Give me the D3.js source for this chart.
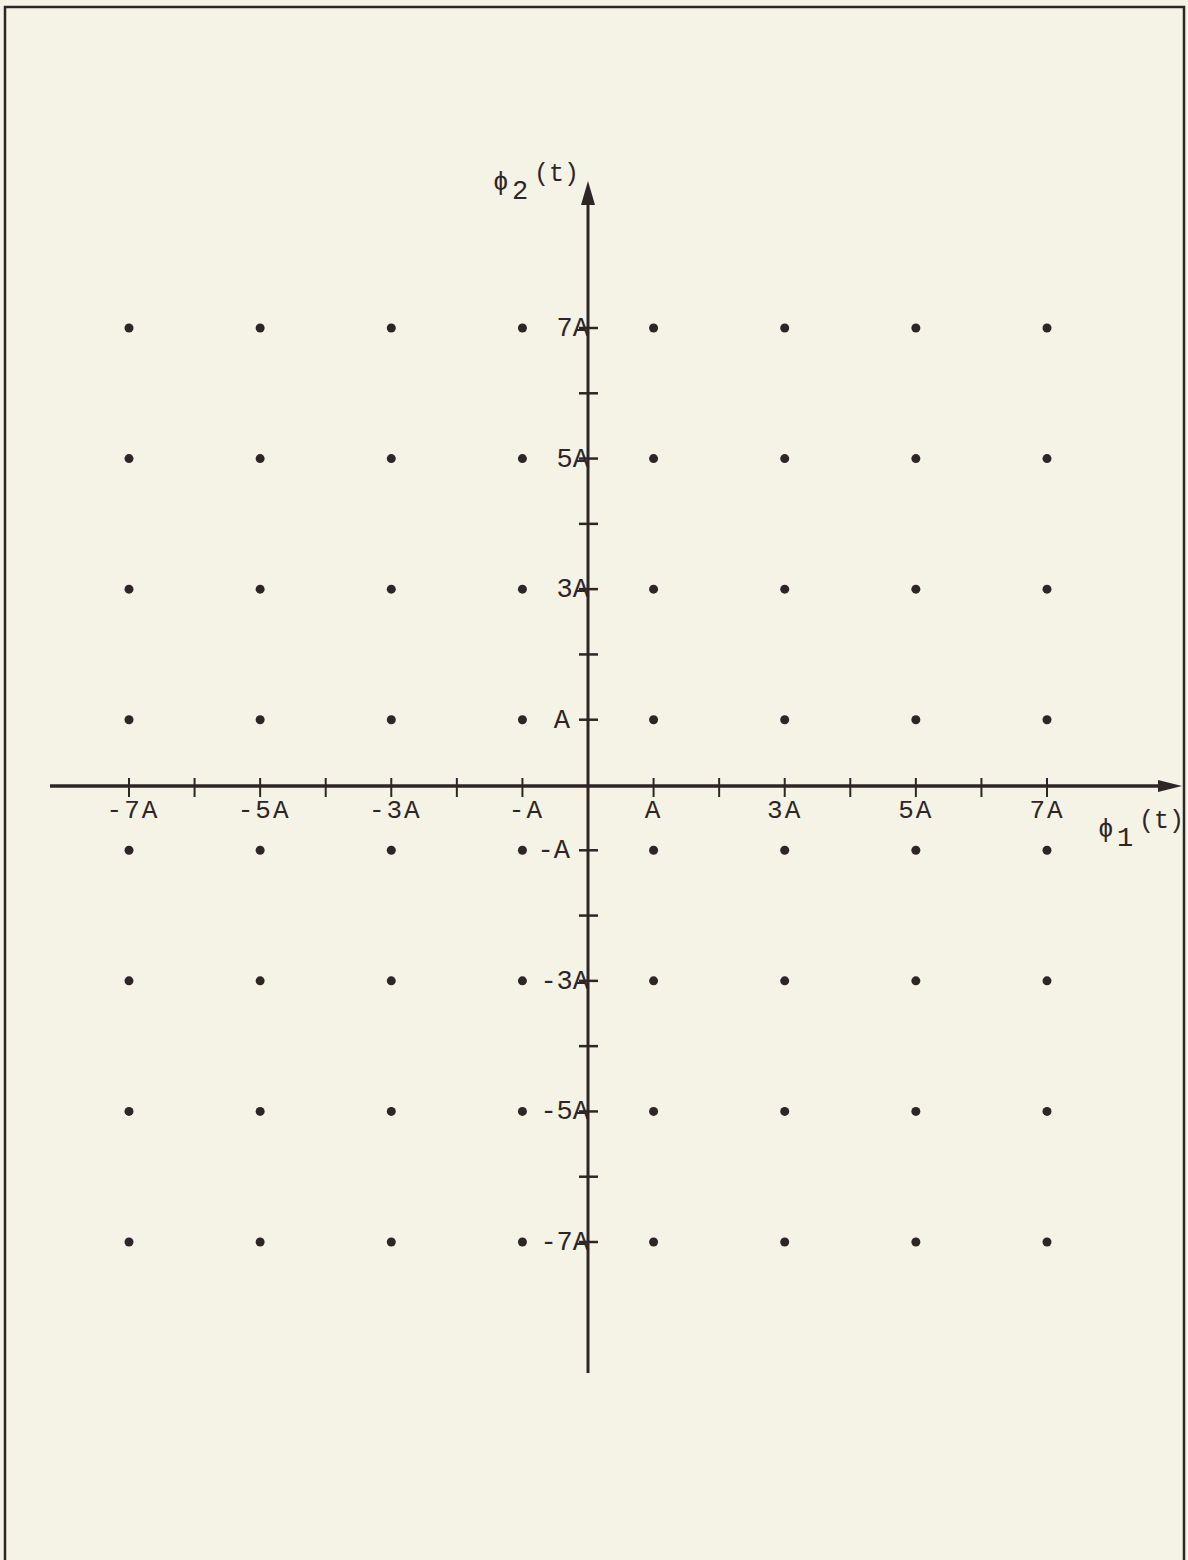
<!DOCTYPE html>
<html>
<head>
<meta charset="utf-8">
<script src="https://cdn.jsdelivr.net/npm/d3@7"></script>
<style>
  html, body { margin: 0; padding: 0; background: #f5f3e5; }
  svg { display: block; }
  text { font-family: "Liberation Mono", "Courier New", monospace; fill: #2e2626; }
</style>
</head>
<body>
<script>
// 64-point signal constellation: amplitude levels on each basis axis
const levels = [-7, -5, -3, -1, 1, 3, 5, 7];
// tick positions along both axes (every integer multiple of A)
const tickValues = [-7, -6, -5, -4, -3, -2, -1, 1, 2, 3, 4, 5, 6, 7];
// labelled ticks and their texts
const labelValues = [-7, -5, -3, -1, 1, 3, 5, 7];
const labelTexts = ["-7A", "-5A", "-3A", "-A", "A", "3A", "5A", "7A"];

// constellation points = every pairing of the levels
const points = [];
levels.forEach(i => levels.forEach(q => points.push({ i, q })));

const W = 1188, H = 1560;
const ink = "#2e2626";

const svg = d3.select("body").append("svg")
  .attr("width", W).attr("height", H);

svg.append("rect").attr("width", W).attr("height", H).attr("fill", "#f5f3e5");

// page frame (open at the bottom edge)
svg.append("path")
  .attr("d", "M5,1560 L5,7 L1184,7 L1184,1560")
  .attr("fill", "none").attr("stroke", ink).attr("stroke-width", 2.5);

const x = d3.scaleLinear().domain([-7, 7]).range([129, 1047]);
const y = d3.scaleLinear().domain([-7, 7]).range([1242, 328]);
const x0 = x(0), y0 = y(0) + 1;

// horizontal axis with arrow
svg.append("line")
  .attr("x1", 50).attr("x2", 1162).attr("y1", y0).attr("y2", y0)
  .attr("stroke", ink).attr("stroke-width", 3.5);
svg.append("path")
  .attr("d", `M1182,${y0} L1158,${y0 - 6} L1158,${y0 + 6} Z`)
  .attr("fill", ink);

// vertical axis with arrow
svg.append("line")
  .attr("x1", x0).attr("x2", x0).attr("y1", 1373).attr("y2", 200)
  .attr("stroke", ink).attr("stroke-width", 3);
svg.append("path")
  .attr("d", `M${x0},181 L${x0 - 7},205 L${x0 + 7},205 Z`)
  .attr("fill", ink);

// tick marks
svg.append("g").selectAll("line").data(tickValues).join("line")
  .attr("x1", d => x(d)).attr("x2", d => x(d))
  .attr("y1", y0 - 8).attr("y2", y0 + 11)
  .attr("stroke", ink).attr("stroke-width", 2);
svg.append("g").selectAll("line").data(tickValues).join("line")
  .attr("x1", x0 - 9).attr("x2", x0 + 10)
  .attr("y1", d => y(d)).attr("y2", d => y(d))
  .attr("stroke", ink).attr("stroke-width", 2.5);

// tick labels on the horizontal axis
svg.append("g").selectAll("text").data(labelValues).join("text")
  .attr("x", (d, k) => x(d) + (d < 0 ? 4 : 0))
  .attr("y", y0 + 32)
  .attr("text-anchor", "middle")
  .attr("font-size", 26)
  .attr("letter-spacing", 2)
  .text((d, k) => labelTexts[k]);

// tick labels on the vertical axis
svg.append("g").selectAll("text").data(labelValues).join("text")
  .attr("x", (d, k) => /\d/.test(labelTexts[k]) ? x0 + 1 : x0 - 18)
  .attr("y", d => y(d) + 8)
  .attr("text-anchor", "end")
  .attr("font-size", 27)
  .text((d, k) => labelTexts[k]);

// axis titles: phi_1(t) and phi_2(t)
function axisTitle(px, py, sub) {
  const g = svg.append("g");
  g.append("text").attr("x", px - 1).attr("y", py)
    .attr("font-family", "DejaVu Sans Mono").attr("font-size", 26)
    .style("font-weight", 300).text("ϕ");
  g.append("text").attr("x", px + 18).attr("y", py + 9)
    .attr("font-size", 27).text(sub);
  g.append("text").attr("x", px + 40).attr("y", py - 9)
    .attr("font-size", 25).text("(t)");
}
axisTitle(1099, 837, "1");
axisTitle(494, 190, "2");

// constellation points
svg.append("g").selectAll("circle").data(points).join("circle")
  .attr("cx", d => x(d.i)).attr("cy", d => y(d.q))
  .attr("r", 4.5).attr("fill", ink);
</script>
</body>
</html>
